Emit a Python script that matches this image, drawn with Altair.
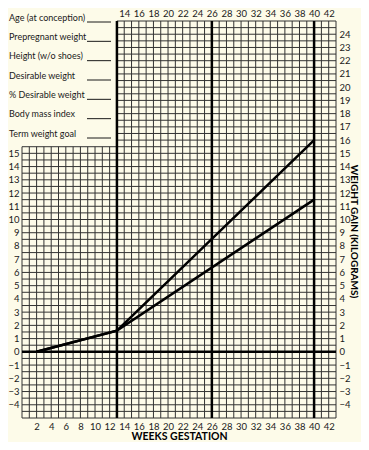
import altair as alt
import pandas as pd

# ---- data ----
weeks_line = [2, 13, 40]
gain_high = [0, 1.6, 16]
gain_low = [0, 1.6, 11.5]

thick_weeks = [13, 26, 40]
grid_weeks = list(range(0, 44))
grid_halfkg = [-5 + 0.5 * i for i in range(61)]

bottom_ticks = list(range(2, 43, 2))
top_ticks = list(range(14, 43, 2))
left_ticks = list(range(-4, 16))
right_ticks = list(range(-4, 25))

form_labels = ["Age (at conception)", "Prepregnant weight", "Height (w/o shoes)",
               "Desirable weight", "% Desirable weight", "Body mass index",
               "Term weight goal"]

FONT = "Lato"
BG = "#fdfbe9"
INK = "#1a1a1a"

xs = alt.Scale(domain=[0, 43], nice=False, zero=False)
ys = alt.Scale(domain=[-5, 25], nice=False, zero=False)

# grid tables
vdf = pd.DataFrame({"week": grid_weeks,
                    "y0": [-5] * len(grid_weeks),
                    "y1": [25 if w >= 13 else 15.5 for w in grid_weeks]})
hdf = pd.DataFrame({"kg": grid_halfkg,
                    "x0": [0 if k <= 15.5 else 13 for k in grid_halfkg],
                    "x1": [43] * len(grid_halfkg)})
tv = pd.DataFrame({"week": thick_weeks, "y0": [-5] * 3, "y1": [25] * 3})
th = pd.DataFrame({"kg": [0], "x0": [0], "x1": [43]})
ldf = pd.DataFrame({"week": weeks_line * 2,
                    "gain": gain_high + gain_low,
                    "series": ["high"] * 3 + ["low"] * 3})
fdf = pd.DataFrame({"label": form_labels})

lab = dict(labelFont=FONT, labelFontSize=9.5, labelColor=INK, domain=False,
           ticks=False, grid=False)

grid_v = alt.Chart(vdf).mark_rule(color="#333333", strokeWidth=1).encode(
    x=alt.X("week:Q", scale=xs,
            axis=alt.Axis(orient="bottom", values=bottom_ticks, labelPadding=3,
                          title="WEEKS GESTATION", titleFont=FONT,
                          titleFontSize=10.5, titleFontWeight="bold",
                          titleColor="#000", titlePadding=1, **lab)),
    y=alt.Y("y0:Q", scale=ys,
            axis=alt.Axis(orient="left", values=left_ticks, labelPadding=3,
                          title=None, **lab)),
    y2="y1:Q",
)

grid_h = alt.Chart(hdf).mark_rule(color="#333333", strokeWidth=1).encode(
    y=alt.Y("kg:Q", scale=ys,
            axis=alt.Axis(orient="right", values=right_ticks, labelPadding=3,
                          title="WEIGHT GAIN (KILOGRAMS)", titleFont=FONT,
                          titleFontSize=10, titleFontWeight="bold",
                          titleColor="#000", titleAngle=90,
                          titleAlign="center", titleBaseline="middle",
                          titleX=17.5, titleY=210, **lab)),
    x=alt.X("x0:Q", scale=xs,
            axis=alt.Axis(orient="top", values=top_ticks, labelPadding=3,
                          title=None, **lab)),
    x2="x1:Q",
)

thick_v = alt.Chart(tv).mark_rule(color="#000", strokeWidth=2.5).encode(
    x=alt.X("week:Q", scale=xs, axis=None),
    y=alt.Y("y0:Q", scale=ys, axis=None), y2="y1:Q")
thick_h = alt.Chart(th).mark_rule(color="#000", strokeWidth=2.5).encode(
    y=alt.Y("kg:Q", scale=ys, axis=None),
    x=alt.X("x0:Q", scale=xs, axis=None), x2="x1:Q")

lines = alt.Chart(ldf).mark_line(color="#000", strokeWidth=2.5).encode(
    x=alt.X("week:Q", scale=xs, axis=None),
    y=alt.Y("gain:Q", scale=ys, axis=None),
    detail="series:N")

main = alt.layer(grid_v, grid_h, thick_v, thick_h, lines).resolve_axis(
    x="independent", y="independent")

rowscale = alt.Scale(type="point", domain=form_labels, range=[-0.5, 115.5],
                     padding=0)
form_text = alt.Chart(fdf).mark_text(align="left", baseline="alphabetic",
                                     font=FONT, fontSize=9, color=INK).encode(
    x=alt.value(-13),
    y=alt.Y("label:N", scale=rowscale, axis=None),
    text="label:N")
form_rule = alt.Chart(fdf).mark_rule(color=INK, strokeWidth=1, yOffset=1.5).encode(
    x=alt.value(65), x2=alt.value(89),
    y=alt.Y("label:N", scale=rowscale, axis=None))
form = alt.layer(form_text, form_rule)

chart = alt.layer(main, form).resolve_scale(y="independent").properties(
    width=314, height=397,
    autosize=alt.AutoSizeParams(type="none"),
    padding={"left": 14, "top": 13, "right": 25, "bottom": 24},
    background=BG,
).configure_view(stroke=None)

chart.save("out.html", embed_options={"renderer": "svg", "actions": False})
